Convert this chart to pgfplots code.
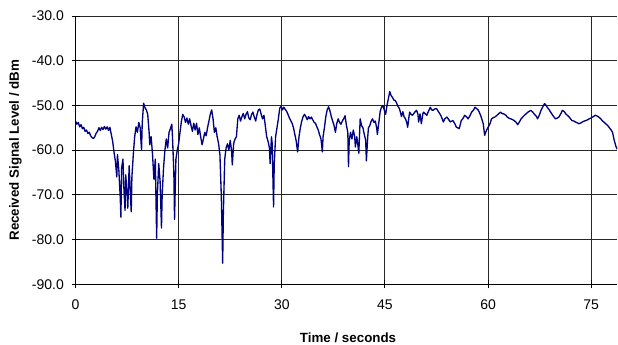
\documentclass[border=0pt]{standalone}
\usepackage{fontspec}
\setmainfont{Liberation Sans}
\usepackage{pgfplots}
\pgfplotsset{compat=1.18}
\usepackage{pgfplotstable}
\definecolor{sig}{RGB}{0,0,128}
\pgfplotstableread{
t y
0.0 -53.5
0.2 -54.2
0.4 -53.8
0.6 -54.8
0.8 -54.3
1.0 -55.2
1.2 -54.9
1.4 -55.8
1.6 -55.5
1.8 -56.3
2.0 -56.0
2.2 -56.8
2.4 -57.2
2.6 -57.4
2.8 -57.0
3.0 -56.2
3.2 -55.8
3.4 -55.0
3.6 -55.6
3.8 -54.9
4.0 -55.4
4.2 -54.7
4.4 -55.3
4.6 -54.8
4.8 -55.6
5.0 -54.9
5.2 -56.5
5.4 -58.0
5.6 -60.5
5.8 -62.5
6.0 -66.0
6.1 -61.0
6.3 -64.5
6.5 -70.5
6.6 -75.0
6.7 -64.0
6.9 -62.0
7.0 -67.5
7.2 -73.5
7.3 -65.5
7.5 -70.0
7.6 -73.0
7.8 -63.5
8.0 -70.5
8.1 -73.8
8.2 -66.0
8.4 -61.0
8.6 -57.0
8.8 -54.8
9.0 -56.0
9.2 -53.8
9.4 -55.0
9.6 -60.0
9.7 -54.0
9.9 -49.5
10.1 -50.5
10.3 -51.0
10.5 -52.0
10.7 -56.0
10.8 -58.8
11.0 -57.0
11.2 -61.0
11.4 -66.5
11.6 -62.0
11.8 -79.7
11.9 -70.0
12.1 -63.0
12.3 -67.0
12.5 -77.4
12.6 -70.0
12.8 -64.0
13.0 -60.0
13.2 -57.5
13.4 -59.5
13.6 -56.0
13.8 -55.2
14.0 -54.2
14.1 -57.0
14.3 -65.0
14.4 -75.5
14.6 -62.0
14.8 -60.0
15.0 -58.5
15.2 -56.0
15.4 -53.5
15.6 -52.0
15.8 -52.6
16.0 -53.8
16.2 -52.8
16.4 -54.2
16.6 -53.0
16.8 -54.5
17.0 -55.8
17.2 -54.0
17.4 -55.5
17.6 -54.0
17.8 -56.5
18.0 -55.0
18.2 -57.0
18.4 -58.8
18.6 -57.5
18.8 -56.0
19.0 -56.8
19.2 -55.0
19.4 -53.5
19.6 -52.0
19.8 -51.0
20.0 -53.0
20.2 -56.0
20.4 -55.0
20.6 -57.0
20.8 -58.5
21.0 -61.0
21.2 -70.0
21.4 -85.3
21.5 -74.0
21.7 -62.0
21.9 -59.5
22.1 -58.6
22.3 -60.0
22.5 -57.8
22.7 -60.2
22.8 -63.3
23.0 -58.5
23.2 -57.5
23.4 -57.0
23.6 -53.0
23.8 -52.2
24.0 -53.5
24.2 -52.5
24.4 -51.8
24.6 -53.0
24.8 -52.0
25.0 -51.4
25.2 -52.8
25.4 -53.2
25.6 -52.0
25.8 -51.5
26.0 -52.6
26.2 -53.5
26.4 -52.0
26.6 -51.0
26.8 -50.8
27.0 -52.0
27.2 -53.0
27.4 -52.2
27.6 -54.5
27.8 -57.0
28.0 -58.0
28.2 -59.5
28.3 -63.0
28.5 -57.0
28.6 -58.5
28.8 -72.7
28.9 -63.0
29.1 -57.0
29.3 -55.0
29.5 -53.0
29.7 -50.6
29.9 -50.2
30.1 -51.0
30.3 -50.4
30.5 -50.9
30.7 -51.3
30.9 -52.0
31.1 -52.8
31.3 -53.4
31.5 -54.0
31.7 -55.0
31.9 -56.5
32.1 -58.0
32.3 -60.4
32.5 -57.0
32.7 -55.0
32.9 -53.5
33.1 -52.5
33.3 -52.0
33.5 -52.5
33.7 -53.2
33.9 -52.5
34.1 -53.0
34.3 -52.6
34.5 -53.2
34.7 -53.8
34.9 -54.0
35.1 -54.8
35.3 -55.5
35.5 -56.6
35.7 -57.5
35.9 -60.4
36.0 -57.0
36.2 -55.0
36.4 -52.5
36.6 -51.0
36.8 -50.3
37.0 -51.2
37.2 -52.5
37.4 -53.5
37.6 -54.5
37.8 -56.0
38.0 -54.0
38.2 -53.0
38.4 -53.8
38.6 -54.2
38.8 -53.5
39.0 -53.0
39.2 -52.3
39.4 -54.5
39.6 -56.0
39.7 -63.7
39.8 -58.0
40.0 -56.0
40.2 -57.5
40.4 -55.5
40.6 -57.0
40.7 -59.3
40.9 -57.0
41.0 -58.0
41.2 -60.7
41.4 -53.0
41.6 -54.5
41.8 -55.0
42.0 -56.5
42.2 -57.8
42.3 -62.4
42.5 -57.0
42.6 -55.0
42.8 -54.5
43.0 -53.5
43.2 -53.0
43.4 -53.8
43.6 -53.5
43.8 -55.0
43.9 -56.5
44.1 -54.0
44.3 -51.4
44.5 -50.4
44.7 -50.0
44.9 -51.0
45.1 -52.0
45.3 -50.0
45.5 -48.5
45.7 -46.9
45.9 -47.8
46.1 -48.2
46.3 -48.8
46.5 -48.9
46.7 -49.5
46.9 -50.2
47.1 -50.7
47.3 -51.8
47.4 -52.5
47.6 -51.4
47.8 -52.6
48.0 -53.0
48.2 -54.0
48.3 -54.9
48.5 -52.5
48.6 -51.5
48.8 -52.0
49.0 -52.2
49.2 -51.8
49.4 -51.4
49.6 -51.1
49.8 -52.0
49.9 -53.7
50.1 -51.9
50.3 -54.1
50.5 -52.0
50.6 -51.5
50.8 -51.8
51.1 -52.2
51.3 -51.4
51.6 -50.4
51.8 -51.0
52.0 -51.1
52.2 -50.8
52.5 -50.7
52.7 -51.2
53.0 -51.9
53.2 -52.5
53.5 -53.7
53.7 -53.0
54.0 -52.6
54.2 -53.0
54.5 -53.7
54.7 -53.5
54.9 -53.4
55.2 -54.2
55.4 -54.9
55.6 -55.0
55.8 -55.2
56.0 -54.0
56.1 -53.4
56.4 -52.8
56.6 -52.2
56.9 -52.6
57.1 -53.0
57.4 -52.2
57.6 -51.5
57.9 -51.0
58.1 -50.4
58.4 -50.8
58.6 -51.1
58.8 -51.8
59.0 -52.6
59.3 -54.1
59.5 -56.7
59.6 -56.2
59.8 -55.5
60.0 -54.9
60.3 -54.0
60.5 -53.0
60.8 -52.7
61.0 -52.6
61.3 -52.2
61.5 -51.9
61.8 -51.5
62.0 -51.8
62.3 -51.9
62.6 -52.2
62.8 -52.6
63.1 -52.9
63.3 -53.0
63.6 -53.2
63.8 -53.4
64.1 -53.8
64.3 -54.3
64.6 -53.6
64.8 -53.0
65.1 -52.5
65.5 -51.9
65.8 -51.5
66.2 -51.1
66.5 -51.5
66.7 -51.9
67.0 -52.4
67.2 -53.0
67.5 -52.0
67.7 -51.1
68.0 -50.2
68.2 -49.6
68.4 -49.9
68.6 -50.4
68.9 -51.0
69.1 -51.5
69.4 -52.2
69.6 -52.6
69.8 -53.0
70.1 -52.8
70.3 -52.6
70.6 -51.8
70.8 -51.1
71.1 -51.4
71.3 -51.9
71.6 -52.3
71.8 -52.6
72.0 -53.0
72.2 -53.4
72.5 -53.5
72.7 -53.7
73.0 -53.9
73.2 -54.1
73.5 -53.9
73.7 -53.7
74.0 -53.5
74.2 -53.4
74.5 -53.2
74.7 -53.0
75.0 -52.8
75.2 -52.6
75.4 -52.4
75.6 -52.2
75.9 -52.4
76.1 -52.6
76.4 -53.0
76.6 -53.4
76.9 -53.8
77.1 -54.1
77.4 -54.5
77.6 -54.9
77.9 -55.5
78.1 -56.0
78.3 -57.5
78.6 -59.2
78.8 -59.8
}\sigdata
\begin{document}
\begin{tikzpicture}
\useasboundingbox (-56.6pt,-45pt) rectangle (406.5pt,213pt);
\begin{axis}[
  at={(0,0)}, anchor=south west,
  scale only axis, width=406pt, height=201pt,
  xmin=0, xmax=78.8, ymin=-90, ymax=-30,
  xtick={0,15,30,45,60,75},
  ytick={-90,-80,-70,-60,-50,-40,-30},
  axis x line*=bottom, axis y line*=left,
  axis line style={-, black, line width=0.9pt},
  tick align=center, major tick length=6pt,
  tick style={black, line width=0.7pt},
  grid=major, major grid style={black!85, line width=0.75pt},
  /pgf/number format/assume math mode=true,
  yticklabel style={/pgf/number format/fixed, /pgf/number format/fixed zerofill, /pgf/number format/precision=1, xshift=-2.2pt},
  xticklabel style={yshift=-5pt},
  ticklabel style={font=\fontsize{10.5}{12}\selectfont},
  xlabel={\textbf{Time / seconds}},
  ylabel={\textbf{Received Signal Level / dBm}},
  label style={font=\fontsize{10}{12}\selectfont},
  every axis y label/.style={at={(axis description cs:-0.111,0.5)}, rotate=90, anchor=center},
  every axis x label/.style={at={(axis description cs:0.503,-0.198)}, anchor=center},
]
\addplot[sig, line width=1pt, line join=round] table[x=t, y=y] {\sigdata};
\end{axis}
\end{tikzpicture}
\end{document}
